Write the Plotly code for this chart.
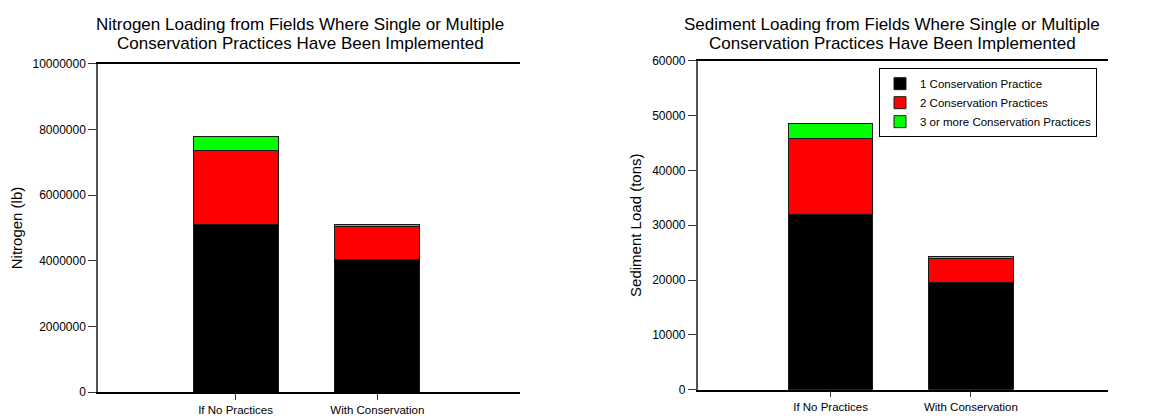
import plotly.graph_objects as go

categories = ["If No Practices", "With Conservation"]
series_names = ["1 Conservation Practice", "2 Conservation Practices", "3 or more Conservation Practices"]
colors = ["#000000", "#FF0000", "#00FF00"]

nitrogen_1 = [5100000, 4030000]
nitrogen_2 = [2250000, 1010000]
nitrogen_3 = [430000, 80000]

sediment_1 = [32000, 19600]
sediment_2 = [13900, 4400]
sediment_3 = [2700, 370]

nitrogen_ticks = [0, 2000000, 4000000, 6000000, 8000000, 10000000]
sediment_ticks = [0, 10000, 20000, 30000, 40000, 50000, 60000]

left_title = ["Nitrogen Loading from Fields Where Single or Multiple",
              "Conservation Practices Have Been Implemented"]
right_title = ["Sediment Loading from Fields Where Single or Multiple",
               "Conservation Practices Have Been Implemented"]

W, H = 1157, 418
FONT = "Liberation Sans, Arial, sans-serif"

fig = go.Figure()
x_pos = [0, 1]

for i, (vals, name) in enumerate(zip([nitrogen_1, nitrogen_2, nitrogen_3], series_names)):
    fig.add_trace(go.Bar(x=x_pos, y=vals, name=name,
                         marker=dict(color=colors[i], line=dict(color="#1a1a1a", width=1)),
                         width=0.6, xaxis="x", yaxis="y", showlegend=False))
for i, (vals, name) in enumerate(zip([sediment_1, sediment_2, sediment_3], series_names)):
    fig.add_trace(go.Bar(x=x_pos, y=vals, name=name,
                         marker=dict(color=colors[i], line=dict(color="#1a1a1a", width=1)),
                         width=0.6, xaxis="x2", yaxis="y2", showlegend=True))

def px_x(p):
    return p / W

def px_y(p):
    return 1 - p / H

ytick_common = dict(showgrid=False, zeroline=False, ticks="outside", tickcolor="#333333", ticklen=8,
                    tickfont=dict(family=FONT, size=12, color="#000000"))
xtick_common = dict(showgrid=False, zeroline=False, ticks="outside", tickcolor="#333333", ticklen=6,
                    tickfont=dict(family=FONT, size=11.5, color="#000000"))

annotations = []
for cx, lines in [(292, left_title), (884, right_title)]:
    for yy, txt in zip([9.5, 29.5], lines):
        annotations.append(dict(text=txt, x=px_x(cx), y=px_y(yy), xref="paper", yref="paper",
                                showarrow=False, xanchor="center", yanchor="middle",
                                font=dict(family=FONT, size=17, color="#000000")))

fig.update_layout(
    width=W, height=H,
    margin=dict(l=0, r=0, t=0, b=0),
    paper_bgcolor="white", plot_bgcolor="white",
    barmode="stack",
    font=dict(family=FONT, size=12, color="#000000"),
    xaxis=dict(domain=[px_x(90), px_x(512)], range=[-0.97, 2.006], tickvals=x_pos, ticktext=categories,
               showline=True, linecolor="#000000", linewidth=1.5, mirror=True,
               anchor="y", **xtick_common),
    yaxis=dict(domain=[px_y(390.3), px_y(50.5)], range=[0, 10000000], tickvals=nitrogen_ticks,
               ticktext=[str(v) for v in nitrogen_ticks], showline=True, linecolor="#555555", linewidth=1.5,
               anchor="x", title=dict(text="Nitrogen (lb)", font=dict(family=FONT, size=15), standoff=8),
               **ytick_common),
    xaxis2=dict(domain=[px_x(689.7), px_x(1100)], range=[-0.947, 1.977], tickvals=x_pos, ticktext=categories,
                showline=True, linecolor="#000000", linewidth=1.5, mirror=True,
                anchor="y2", **xtick_common),
    yaxis2=dict(domain=[px_y(387.7), px_y(47.3)], range=[0, 60000], tickvals=sediment_ticks,
                ticktext=[str(v) for v in sediment_ticks], showline=True, linecolor="#555555", linewidth=1.5,
                anchor="x2", title=dict(text="Sediment Load (tons)", font=dict(family=FONT, size=15), standoff=7),
                **ytick_common),
    legend=dict(x=px_x(871), y=px_y(55), xanchor="left", yanchor="top",
                bordercolor="#000000", borderwidth=1, bgcolor="white",
                font=dict(family=FONT, size=11.5), traceorder="normal", tracegroupgap=0),
    annotations=annotations,
)

fig.write_html("out.html")
